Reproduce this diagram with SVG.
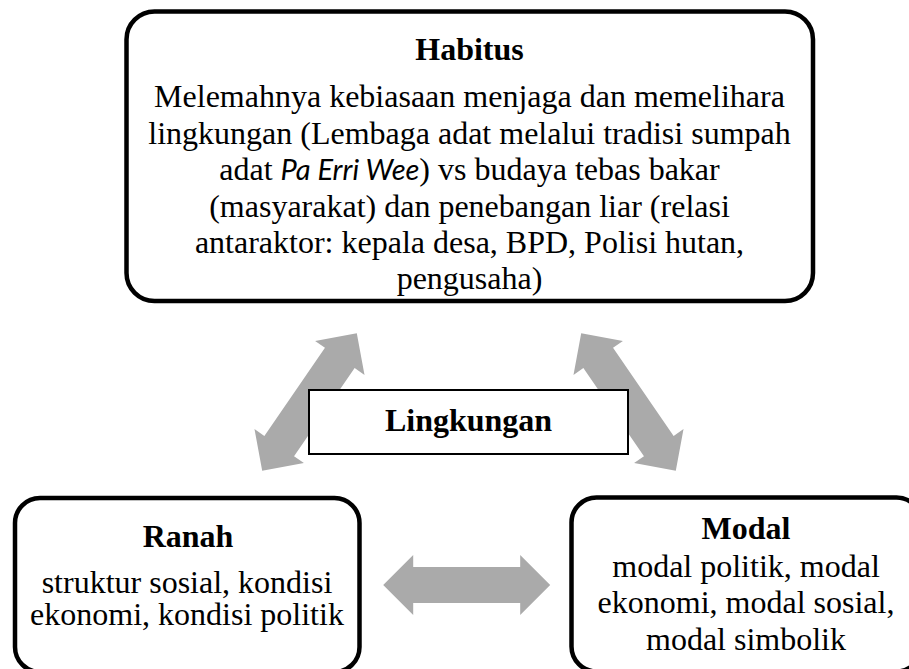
<svg xmlns="http://www.w3.org/2000/svg" width="909" height="669" viewBox="0 0 909 669">
<style>
.box{fill:#fff;stroke:#000;stroke-width:4.5}
.lbox{fill:#fff;stroke:#000;stroke-width:2}
.t{font-family:"Liberation Serif","Times New Roman",serif;font-size:32px;fill:#000;text-anchor:middle}
.b{font-weight:bold}
.it{font-family:Lato,"Open Sans",sans-serif;font-style:italic;font-size:29px}
.arrow{fill:#aaaaaa}
</style>
<defs>
<path id="dbl" d="M -83.5 0 L -53.5 -30 L -53.5 -18 L 53.5 -18 L 53.5 -30 L 83.5 0 L 53.5 30 L 53.5 18 L -53.5 18 L -53.5 30 Z"/>
</defs>
<rect width="909" height="669" fill="#fff"/>
<g id="connectors">
<use href="#dbl" class="arrow" transform="translate(309.5,402) rotate(-55.5)"/>
<use href="#dbl" class="arrow" transform="translate(628.5,402) rotate(55.5)"/>
<use href="#dbl" class="arrow" transform="translate(466.7,585)"/>
</g>
<g id="habitus">
<rect class="box" x="126.5" y="11.5" width="686.5" height="289.5" rx="28"/>
<text class="t b" x="469.5" y="60">Habitus</text>
<text class="t" x="469.5" y="107">Melemahnya kebiasaan menjaga dan memelihara</text>
<text class="t" x="469.5" y="144">lingkungan (Lembaga adat melalui tradisi sumpah</text>
<text class="t" x="469.5" y="180">adat <tspan class="it">Pa Erri Wee</tspan>) vs budaya tebas bakar</text>
<text class="t" x="469.5" y="217">(masyarakat) dan penebangan liar (relasi</text>
<text class="t" x="469.5" y="253">antaraktor: kepala desa, BPD, Polisi hutan,</text>
<text class="t" x="469.5" y="289">pengusaha)</text>
</g>
<g id="lingkungan">
<rect class="lbox" x="309" y="390" width="319" height="64"/>
<text class="t b" x="468.5" y="431">Lingkungan</text>
</g>
<g id="ranah">
<rect class="box" x="15" y="498" width="344.5" height="174" rx="25"/>
<text class="t b" x="188" y="547">Ranah</text>
<text class="t" x="187" y="593">struktur sosial, kondisi</text>
<text class="t" x="187" y="625">ekonomi, kondisi politik</text>
</g>
<g id="modal">
<rect class="box" x="571.5" y="497.5" width="350" height="174" rx="25"/>
<text class="t b" x="746" y="539">Modal</text>
<text class="t" x="746" y="577">modal politik, modal</text>
<text class="t" x="746" y="613">ekonomi, modal sosial,</text>
<text class="t" x="746" y="650">modal simbolik</text>
</g>
</svg>
